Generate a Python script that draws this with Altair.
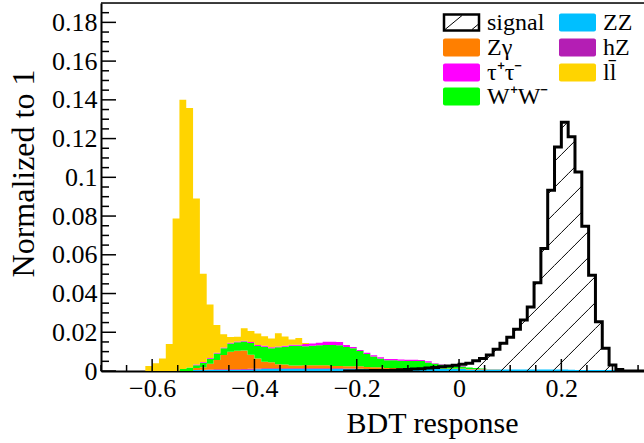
import altair as alt
import pandas as pd

# ---------------- data ----------------
BIN_W = 1 / 75          # bin width; bin k spans [-1 + k*BIN_W, -1 + (k+1)*BIN_W]
K_FIRST, K_LAST = 22, 102

ZZ_START = 36
ZZ = [0.0005, 0.0005, 0.0005, 0.0005, 0.0005, 0.0005, 0.0005, 0.0006, 0.0007,
      0.0009, 0.001, 0.001, 0.001, 0.001, 0.001, 0.001, 0.001, 0.001, 0.001,
      0.001, 0.001, 0.001, 0.001, 0.001, 0.001, 0.001, 0.001, 0.001, 0.001,
      0.001, 0.001, 0.001, 0.001, 0.001, 0.001, 0.001, 0.001, 0.001, 0.001,
      0.001, 0.0008, 0.0008, 0.0008, 0.0008, 0.0008, 0.0008, 0.0008, 0.0008,
      0.0008, 0.0008, 0.0008, 0.0008, 0.0008, 0.0008, 0.0008, 0.0006, 0.0005,
      0.0005, 0.0005, 0.0005, 0.0005, 0.0005, 0.0005, 0.0005, 0.0005]
HZ_START = 37
HZ = [0.0002, 0.0003, 0.0004, 0.0004, 0.0004, 0.0004, 0.0004, 0.0004, 0.0004,
      0.0004, 0.0004, 0.0004, 0.0004, 0.0004, 0.0004, 0.0004, 0.0004, 0.0004,
      0.0004, 0.0004, 0.0004, 0.0003, 0.0003, 0.0002]
ZG_START = 36
ZG = [0.001, 0.0012, 0.003, 0.0048, 0.0073, 0.009, 0.0096, 0.0096, 0.0073,
      0.0051, 0.0034, 0.0031, 0.0021, 0.002, 0.0015, 0.0015, 0.0016, 0.0016,
      0.0016, 0.0016, 0.0012, 0.0012, 0.0012, 0.0012, 0.0012, 0.0011, 0.001,
      0.001, 0.0006, 0.0005, 0.0005, 0.0005, 0.0005, 0.0005, 0.0004, 0.0003,
      0.0003, 0.0003, 0.0003, 0.0003, 0.0002, 0.0002, 0.0002, 0.0001, 0.0001]
WW_START = 34
WW = [0.001, 0.0018, 0.0015, 0.0023, 0.0025, 0.0033, 0.0035, 0.0043, 0.0043,
      0.0046, 0.0061, 0.0065, 0.0077, 0.0073, 0.0087, 0.0091, 0.0101, 0.0102,
      0.0098, 0.01, 0.0103, 0.0104, 0.0108, 0.0107, 0.0099, 0.0092, 0.0079,
      0.0067, 0.0055, 0.0045, 0.004, 0.0041, 0.0038, 0.0037, 0.0037, 0.0036,
      0.003, 0.0024, 0.002, 0.0015, 0.0012, 0.001, 0.0008, 0.0005, 0.0003]
TT_START = 36
TT = [0.0004, 0.0004, 0.0004, 0.0004, 0.0004, 0.0004, 0.0004, 0.0004, 0.0005,
      0.0005, 0.0005, 0.0005, 0.0005, 0.0005, 0.0005, 0.0005, 0.0011, 0.0012,
      0.0013, 0.0017, 0.0017, 0.0017, 0.001, 0.0007, 0.0006, 0.0006, 0.0006,
      0.0006, 0.0006, 0.0006, 0.0006, 0.0006, 0.0006, 0.0006, 0.0006, 0.0003,
      0.0003, 0.0003, 0.0003, 0.0003]
LL_START = 29
LL = [0.0026, 0.004, 0.0065, 0.0139, 0.0787, 0.139, 0.134, 0.0856, 0.0456,
      0.0276, 0.0143, 0.0069, 0.003, 0.0025, 0.0065, 0.0057, 0.006, 0.005,
      0.0045, 0.0068, 0.0048, 0.0028, 0.0035, 0.0005]
SIG_START = 60
SIGNAL = [0.0001, 0.0001, 0.0002, 0.0002, 0.0003, 0.0004, 0.0006, 0.0008, 0.001,
          0.0012, 0.0015, 0.0018, 0.0022, 0.0026, 0.003, 0.0035, 0.004, 0.0053,
          0.0065, 0.0082, 0.0112, 0.0143, 0.0174, 0.0215, 0.0263, 0.0331, 0.0455,
          0.0632, 0.0933, 0.1156, 0.1284, 0.121, 0.1027, 0.0747, 0.0495, 0.0254,
          0.0117, 0.0031, 0.0008, 0.0]

PROCESSES = ["ZZ", "hZ", "Zγ", "W⁺W⁻", "τ⁺τ⁻", "ll̄"]   # stacking order, bottom first
SERIES = {"ZZ": (ZZ_START, ZZ), "hZ": (HZ_START, HZ), "Zγ": (ZG_START, ZG),
          "W⁺W⁻": (WW_START, WW), "τ⁺τ⁻": (TT_START, TT), "ll̄": (LL_START, LL)}
COLORS = ["#00BFFF", "#B41EB4", "#FF7F00", "#00FF00", "#FF00FF", "#FFD400"]

X_MAJOR = [-0.6, -0.4, -0.2, 0.0, 0.2]
X_MINOR = [-0.7, -0.65, -0.55, -0.5, -0.45, -0.35, -0.3, -0.25, -0.15, -0.1, -0.05,
           0.05, 0.1, 0.15, 0.25, 0.3, 0.35]
Y_MAJOR = [0.0, 0.02, 0.04, 0.06, 0.08, 0.1, 0.12, 0.14, 0.16, 0.18]
Y_MINOR = [0.005, 0.01, 0.015, 0.025, 0.03, 0.035, 0.045, 0.05, 0.055, 0.065, 0.07,
           0.075, 0.085, 0.09, 0.095, 0.105, 0.11, 0.115, 0.125, 0.13, 0.135, 0.145,
           0.15, 0.155, 0.165, 0.17, 0.175, 0.185]

# ---------------- layout ----------------
XMIN, XMAX, YMAX = -0.7, 0.3616, 0.19
W, H = 543, 368
FONT = "Liberation Serif"


def edge(k):
    return -1 + k * BIN_W


def series_value(name, k):
    start, vals = SERIES[name]
    i = k - start
    return vals[i] if 0 <= i < len(vals) else 0.0


rows = []
for order, name in enumerate(PROCESSES):
    for k in range(K_FIRST, K_LAST + 2):
        v = series_value(name, k) if k <= K_LAST else 0.0
        rows.append({"x": edge(k), "v": v, "proc": name, "ord": order})
bkg = pd.DataFrame(rows)

sig_rows = []
for k in range(SIG_START - 2, K_LAST + 2):
    i = k - SIG_START
    v = SIGNAL[i] if 0 <= i < len(SIGNAL) else 0.0
    sig_rows.append({"x": edge(k), "v": v})
sig = pd.DataFrame(sig_rows)

# hatch (45 degrees on screen) inside the signal histogram
px_x = W / (XMAX - XMIN)
px_y = H / YMAX
slope = px_x / px_y
HATCH_STEP = 26 / px_x
hatch = []
for j in range(-30, 30):
    c = 0.031 + j * HATCH_STEP
    for i, h in enumerate(SIGNAL):
        if h <= 0:
            continue
        x0, x1 = edge(SIG_START + i), edge(SIG_START + i + 1)
        a, b = max(x0, c), min(x1, c + h / slope)
        if b > a:
            hatch.append({"x": a, "v": slope * (a - c), "x2": b, "v2": slope * (b - c)})
hatch = pd.DataFrame(hatch)

xs = alt.Scale(domain=[XMIN, XMAX], nice=False, zero=False)
ys = alt.Scale(domain=[0, YMAX], nice=False, zero=True)

COMMON_AXIS = dict(ticks=False, tickSize=0, grid=False, domainColor="black",
                   domainWidth=2, labelFont=FONT, labelFontSize=26, labelColor="black",
                   labelFlush=False, labelOverlap=False, titleFont=FONT,
                   titleFontWeight="normal", titleColor="black", titleAlign="center",
                   titleBaseline="alphabetic")
X_AXIS = alt.Axis(values=X_MAJOR, format=".1~f", title="BDT response",
                  labelPadding=4, titleFontSize=30, titleX=331, titleY=61,
                  titleAngle=0, **COMMON_AXIS)
Y_AXIS = alt.Axis(values=Y_MAJOR, format=".2~f", title="Normalized to 1",
                  labelPadding=4, titleFontSize=32, titleAngle=270,
                  titleX=-68, titleY=170, **COMMON_AXIS)


def X(field):
    return alt.X(field, type="quantitative", scale=xs, axis=X_AXIS)


def Y(field, **kw):
    return alt.Y(field, type="quantitative", scale=ys, axis=Y_AXIS, **kw)


areas = alt.Chart(bkg).mark_area(interpolate="step-after", clip=True).encode(
    x=X("x"), y=Y("v", stack="zero"),
    color=alt.Color("proc:N", scale=alt.Scale(domain=PROCESSES, range=COLORS), legend=None),
    order=alt.Order("ord:Q"),
)

hatch_layer = alt.Chart(hatch).mark_rule(color="black", strokeWidth=1, clip=True).encode(
    x=X("x"), y=Y("v"), x2="x2:Q", y2="v2:Q")

outline = alt.Chart(sig).mark_line(interpolate="step-after", color="black",
                                   strokeWidth=3, clip=True).encode(x=X("x"), y=Y("v"))


def xticks(vals, length):
    return alt.Chart(pd.DataFrame({"x": vals})).mark_rule(color="black", strokeWidth=1.5).encode(
        x=X("x"), y=alt.value(H), y2=alt.value(H - length))


def yticks(vals, length):
    return alt.Chart(pd.DataFrame({"v": vals})).mark_rule(color="black", strokeWidth=1.5).encode(
        y=Y("v"), x=alt.value(0), x2=alt.value(length))


one = pd.DataFrame({"a": [0]})
top_border = alt.Chart(one).mark_rule(color="black", strokeWidth=1.5).encode(
    x=alt.value(0), x2=alt.value(W + 5), y=alt.value(0))

# ---------------- legend ----------------
LEG = [("signal", None, 0, 0), ("Zγ", "#FF7F00", 0, 1), ("τ⁺τ⁻", "#FF00FF", 0, 2),
       ("W⁺W⁻", "#00FF00", 0, 3), ("ZZ", "#00BFFF", 1, 0), ("hZ", "#B41EB4", 1, 1),
       ("ll̄", "#FFD400", 1, 2)]
COL_X = [342, 458]
ROW_Y = [19.5, 44.5, 69.5, 93.5]
BW, BH = 37, 18
legend_layers = []
for label, colr, col, row in LEG:
    bx, by = COL_X[col], ROW_Y[row]
    if colr is None:
        box = alt.Chart(one).mark_rect(fill="white", stroke="black", strokeWidth=2.5).encode(
            x=alt.value(bx + 1), x2=alt.value(bx + BW - 1),
            y=alt.value(by - BH / 2 + 1), y2=alt.value(by + BH / 2 - 1))
        h1 = alt.Chart(one).mark_rule(color="black", strokeWidth=1).encode(
            x=alt.value(bx + 2), y=alt.value(by + BH / 2 - 2),
            x2=alt.value(bx + 19), y2=alt.value(by - BH / 2 + 2))
        h2 = alt.Chart(one).mark_rule(color="black", strokeWidth=1).encode(
            x=alt.value(bx + 29), y=alt.value(by + BH / 2 - 2),
            x2=alt.value(bx + BW - 2), y2=alt.value(by + 2))
        legend_layers += [box, h1, h2]
    else:
        box = alt.Chart(one).mark_rect(fill=colr, cornerRadius=2).encode(
            x=alt.value(bx), x2=alt.value(bx + BW),
            y=alt.value(by - BH / 2), y2=alt.value(by + BH / 2))
        legend_layers.append(box)
    txt = alt.Chart(one).mark_text(align="left", baseline="middle", font=FONT,
                                   fontSize=24, color="black").encode(
        x=alt.value(bx + BW + 7), y=alt.value(by), text=alt.value(label))
    legend_layers.append(txt)

chart = alt.layer(
    areas, hatch_layer, outline,
    xticks(X_MAJOR, 12), xticks(X_MINOR, 6), yticks(Y_MAJOR, 15), yticks(Y_MINOR, 8),
    top_border, *legend_layers,
).properties(
    width=W, height=H,
    padding={"left": 101, "top": 3, "right": 0, "bottom": 72},
    autosize=alt.AutoSizeParams(type="none"),
).configure_view(stroke=None).configure(
    background="white", font=FONT,
    style={"guide-label": {"font": FONT, "fontSize": 26, "fill": "black"},
           "guide-title": {"font": FONT, "fill": "black", "fontWeight": "normal"}},
).configure_axis(
    labelFont=FONT, titleFont=FONT,
).configure_axisX(
    labelFont=FONT, titleFont=FONT,
).configure_axisY(
    labelFont=FONT, titleFont=FONT,
)

chart.save("out.html", embed_options={"renderer": "svg", "actions": False})
